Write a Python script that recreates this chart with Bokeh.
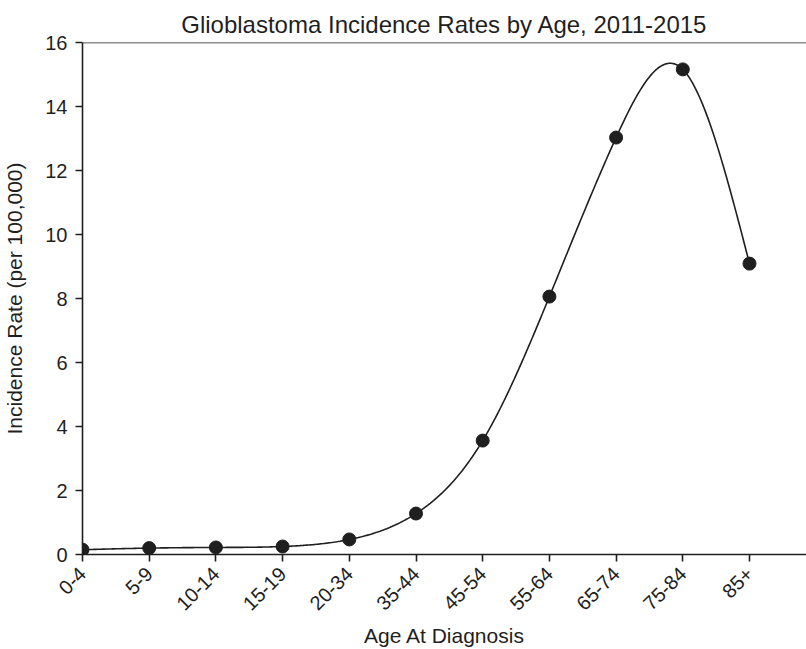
import numpy as np
from bokeh.plotting import figure
from bokeh.models import Range1d, FixedTicker, Span
from bokeh.embed import file_html
from bokeh.resources import INLINE

categories = ["0-4", "5-9", "10-14", "15-19", "20-34", "35-44", "45-54",
              "55-64", "65-74", "75-84", "85+"]
rates = [0.15, 0.20, 0.22, 0.25, 0.47, 1.28, 3.56, 8.06, 13.03, 15.16, 9.09]
y_ticks = [0, 2, 4, 6, 8, 10, 12, 14, 16]

xs = np.arange(len(categories), dtype=float)
ys = np.array(rates, dtype=float)

# natural cubic spline through the data points (for the smooth line only)
def natural_spline(x, y, n=400):
    m = len(x)
    h = np.diff(x)
    A = np.zeros((m, m))
    b = np.zeros(m)
    A[0, 0] = 1
    A[-1, -1] = 1
    for i in range(1, m - 1):
        A[i, i - 1] = h[i - 1]
        A[i, i] = 2 * (h[i - 1] + h[i])
        A[i, i + 1] = h[i]
        b[i] = 3 * ((y[i + 1] - y[i]) / h[i] - (y[i] - y[i - 1]) / h[i - 1])
    c = np.linalg.solve(A, b)
    xx = np.linspace(x[0], x[-1], n)
    yy = np.empty_like(xx)
    for k, t in enumerate(xx):
        i = min(np.searchsorted(x, t, side="right") - 1, m - 2)
        dx = t - x[i]
        bi = (y[i + 1] - y[i]) / h[i] - h[i] * (2 * c[i] + c[i + 1]) / 3
        di = (c[i + 1] - c[i]) / (3 * h[i])
        yy[k] = y[i] + bi * dx + c[i] * dx ** 2 + di * dx ** 3
    return xx, yy

sx, sy = natural_spline(xs, ys)

FONT = "Liberation Sans"
INK = "#1f1f1f"

W, H = 806, 649
p = figure(width=W, height=H, output_backend="svg", toolbar_location=None,
           x_range=Range1d(0, (W - 82) / 66.7), y_range=Range1d(0, 16),
           min_border_left=82, min_border_right=0, min_border_top=42,
           min_border_bottom=H - 554)
p.title.text = "Glioblastoma Incidence Rates by Age, 2011-2015"
p.title.align = "center"
p.title.text_font = FONT
p.title.text_font_size = "24px"
p.title.text_font_style = "normal"
p.title.text_color = INK
p.outline_line_color = None
p.xgrid.visible = False
p.ygrid.visible = False

p.line(sx, sy, line_color=INK, line_width=1.6)
p.scatter(xs, ys, size=13, fill_color=INK, line_color=INK)

p.add_layout(Span(location=16, dimension="width", line_color=INK, line_width=1.6))

xa = p.xaxis[0]
xa.ticker = FixedTicker(ticks=list(range(len(categories))))
xa.major_label_overrides = {i: c for i, c in enumerate(categories)}
xa.major_label_orientation = np.pi / 4
xa.axis_label = "Age At Diagnosis"

ya = p.yaxis[0]
ya.ticker = FixedTicker(ticks=y_ticks)
ya.axis_label = "Incidence Rate (per 100,000)"

for ax in (xa, ya):
    ax.axis_line_color = INK
    ax.axis_line_width = 1.6
    ax.major_tick_line_color = INK
    ax.major_tick_line_width = 1.6
    ax.major_tick_out = 7
    ax.major_tick_in = 0
    ax.minor_tick_line_color = None
    ax.major_label_text_font = FONT
    ax.major_label_text_font_size = "20px"
    ax.major_label_text_color = INK
    ax.axis_label_text_font = FONT
    ax.axis_label_text_font_size = "21px"
    ax.axis_label_text_font_style = "normal"
    ax.axis_label_text_color = INK

ya.major_label_standoff = 8
ya.axis_label_standoff = 16
xa.major_label_standoff = 9
xa.axis_label_standoff = 4

open("out.html", "w").write(file_html(p, INLINE))
